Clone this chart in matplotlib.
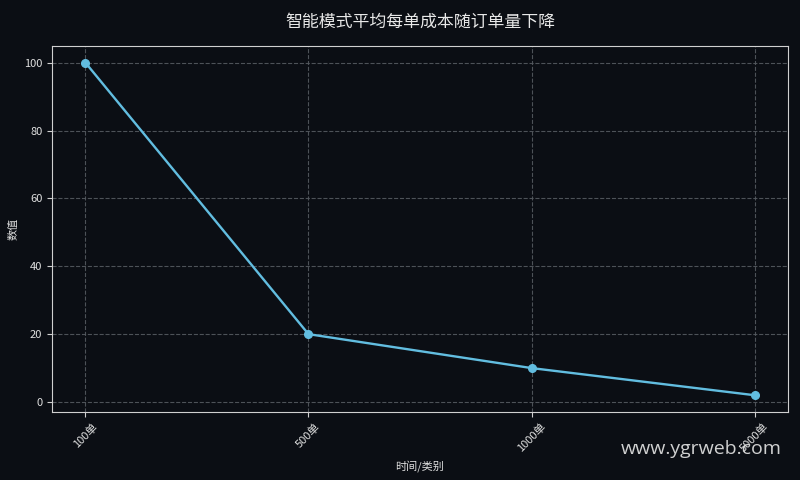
import matplotlib
matplotlib.use("Agg")
import matplotlib.pyplot as plt

plt.rcParams['font.family'] = ['Noto Sans CJK SC', 'DejaVu Sans']
plt.rcParams['axes.unicode_minus'] = False

categories = ['100单', '500单', '1000单', '5000单']
values = [100, 20, 10, 2]

bg = '#0b0e14'
line_color = '#62bde0'

fig = plt.figure(figsize=(8, 4.8), dpi=100, facecolor=bg)
ax = fig.add_axes([0.065, 0.142, 0.92, 0.762])
ax.set_facecolor(bg)

ax.plot(categories, values, color=line_color, linewidth=1.7, marker='o', markersize=5.5)

ax.grid(True, linestyle='--', color='#555a60', linewidth=0.8, alpha=0.9)
for s in ax.spines.values():
    s.set_color('#d0d0d0')
ax.tick_params(colors='#e0e0e0', labelsize=8, color='#d0d0d0')
plt.setp(ax.get_xticklabels(), rotation=45)

ax.set_xlabel('时间/类别', color='#e0e0e0', fontsize=8)
ax.set_ylabel('数值', color='#e0e0e0', fontsize=8)
ax.set_title('智能模式平均每单成本随订单量下降', color='#e8e8e8', fontsize=12.2, pad=14)

# watermark
fig.text(0.977, 0.045, 'www.ygrweb.com', color='#e6e6e6', fontsize=14,
         ha='right', va='bottom', family=['Open Sans', 'DejaVu Sans'], alpha=0.9, zorder=0)

fig.savefig('out.png', dpi=100, facecolor=bg)
